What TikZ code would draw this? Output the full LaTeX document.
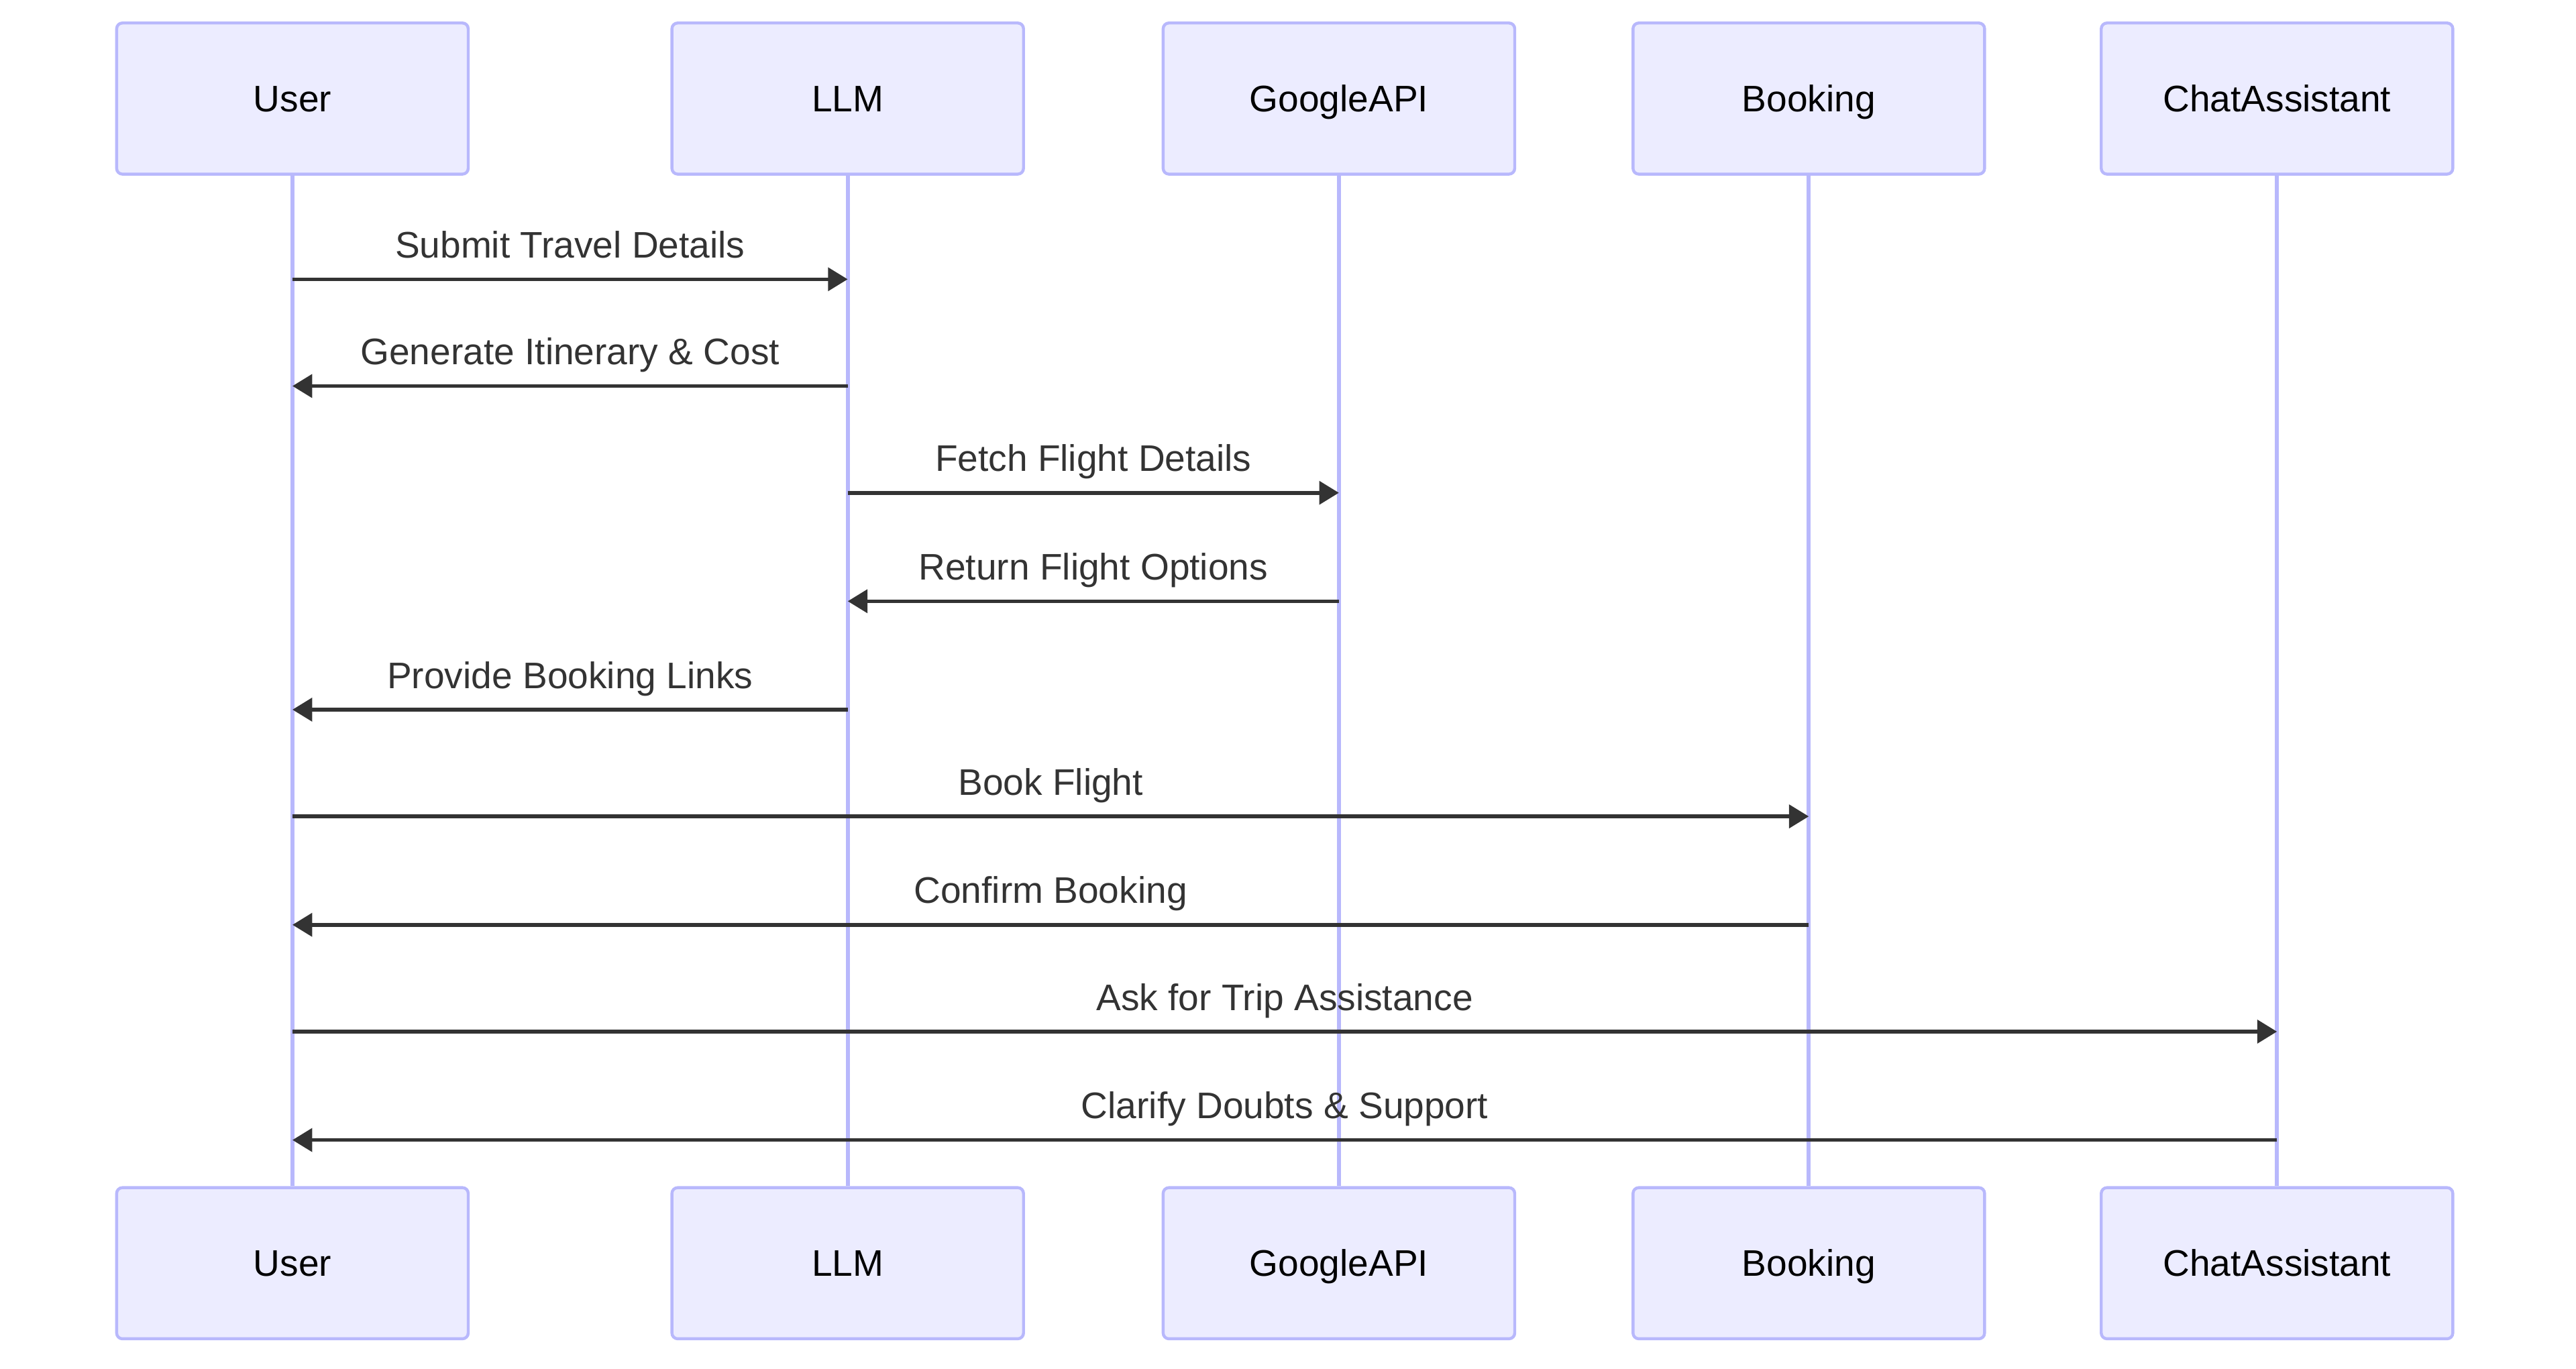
\documentclass[tikz,border=0pt]{standalone}
\usepackage{fontspec}
\setmainfont{Liberation Sans}
\usetikzlibrary{arrows.meta,positioning,calc}
\definecolor{actorfill}{HTML}{ECECFF}
\definecolor{actorline}{HTML}{B8B8FC}
\definecolor{msgline}{HTML}{333333}
\tikzset{
    actor/.style={draw=actorline, fill=actorfill, line width=1.8pt, rounded corners=3.5pt,
        minimum width=214pt, minimum height=92pt, inner sep=0pt,
        text height=16pt, text depth=0pt,
        font=\fontsize{22.5}{27}\selectfont, text=black},
    lifeline/.style={draw=actorline, line width=2.4pt},
    msg/.style={draw=msgline, line width=2.3pt, -{Triangle[length=12pt, width=14pt]}},
    lbl/.style={midway, anchor=base, yshift=13pt, inner sep=0pt, text=msgline,
        font=\fontsize{22.5}{27}\selectfont}
}
\begin{document}
\begin{tikzpicture}[x=1pt, y=-1pt]
    \useasboundingbox (0,0) rectangle (1568,833);
    % participants and lifelines
    \foreach \n/\x/\t in {user/178/User, llm/516/LLM, gapi/815/GoogleAPI, book/1101/Booking, chat/1386/ChatAssistant} {
        \node[actor] (\n T) at (\x,60) {\t};
        \node[actor] (\n B) at (\x,769) {\t};
        \draw[lifeline] (\n T) -- (\n B);
    }
    % messages
    \draw[msg] (userT |- 0,170) -- (llmT |- 0,170) node[lbl] {Submit Travel Details};
    \draw[msg] (llmT |- 0,235) -- (userT |- 0,235) node[lbl] {Generate Itinerary \& Cost};
    \draw[msg] (llmT |- 0,300) -- (gapiT |- 0,300) node[lbl] {Fetch Flight Details};
    \draw[msg] (gapiT |- 0,366) -- (llmT |- 0,366) node[lbl] {Return Flight Options};
    \draw[msg] (llmT |- 0,432) -- (userT |- 0,432) node[lbl] {Provide Booking Links};
    \draw[msg] (userT |- 0,497) -- (bookT |- 0,497) node[lbl] {Book Flight};
    \draw[msg] (bookT |- 0,563) -- (userT |- 0,563) node[lbl] {Confirm Booking};
    \draw[msg] (userT |- 0,628) -- (chatT |- 0,628) node[lbl] {Ask for Trip Assistance};
    \draw[msg] (chatT |- 0,694) -- (userT |- 0,694) node[lbl] {Clarify Doubts \& Support};
\end{tikzpicture}
\end{document}
